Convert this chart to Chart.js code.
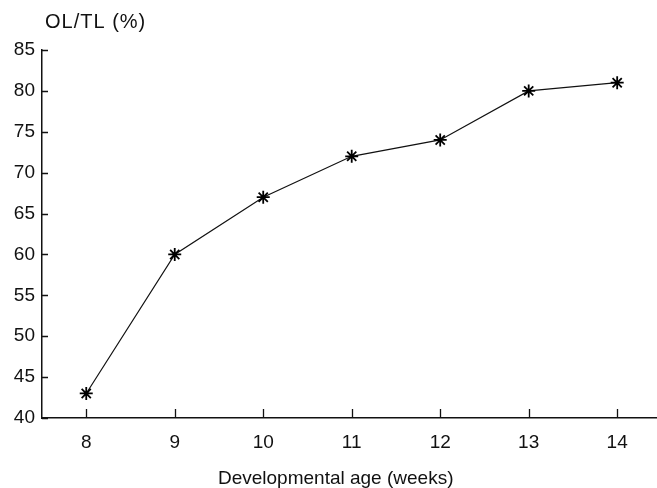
<!DOCTYPE html>
<html>
<head>
<meta charset="utf-8">
<script src="https://cdn.jsdelivr.net/npm/chart.js@4"></script>
<style>
html,body{margin:0;padding:0;background:#fff;}
#wrap{width:657px;height:488px;position:relative;}
</style>
</head>
<body>
<div id="wrap"><canvas id="c" width="657" height="488"></canvas></div>
<script>
const weeks = [8, 9, 10, 11, 12, 13, 14];
const olTl = [43, 60, 67, 72, 74, 80, 81];
const yTicks = [40, 45, 50, 55, 60, 65, 70, 75, 80, 85];
const yTitle = 'OL/TL (%)';
const xTitle = 'Developmental age (weeks)';

const FONT = '"Liberation Sans", Arial, sans-serif';

const innerTicks = {
  id: 'innerTicks',
  afterDraw(chart) {
    const ctx = chart.ctx;
    const xs = chart.scales.x, ys = chart.scales.y;
    const ca = chart.chartArea;
    ctx.save();
    ctx.strokeStyle = '#111';
    ctx.lineWidth = 1.3;
    ctx.beginPath();
    weeks.forEach(w => {
      const px = Math.round(xs.getPixelForValue(w)) + 0.5;
      ctx.moveTo(px, ca.bottom);
      ctx.lineTo(px, ca.bottom - 9);
    });
    yTicks.forEach(v => {
      const py = Math.round(ys.getPixelForValue(v)) + 0.5;
      ctx.moveTo(ca.left, py);
      ctx.lineTo(ca.left + 6, py);
    });
    ctx.stroke();
    ctx.fillStyle = '#111';
    ctx.font = '20px ' + FONT;
    ctx.textBaseline = 'alphabetic';
    ctx.textAlign = 'left';
    try { ctx.letterSpacing = '1px'; } catch (e) {}
    ctx.fillText(yTitle, ca.left + 3, 28);
    try { ctx.letterSpacing = '0px'; } catch (e) {}
    ctx.font = '19px ' + FONT;
    ctx.textAlign = 'center';
    const cx = (xs.getPixelForValue(10) + xs.getPixelForValue(12)) / 2 - 16;
    ctx.fillText(xTitle, cx, 484);
    ctx.restore();
  }
};

new Chart(document.getElementById('c'), {
  type: 'line',
  data: {
    datasets: [{
      data: weeks.map((w, i) => ({x: w, y: olTl[i]})),
      borderColor: '#111',
      borderWidth: 1.2,
      pointStyle: 'star',
      pointRadius: 6.5,
      pointBorderWidth: 1.8,
      pointBorderColor: '#000',
      pointBackgroundColor: '#000',
      tension: 0,
      fill: false
    }]
  },
  options: {
    responsive: false,
    animation: false,
    devicePixelRatio: 1,
    layout: {autoPadding: false, padding: {top: 50, right: 0, left: 0, bottom: 0}},
    plugins: {legend: {display: false}, tooltip: {enabled: false}, title: {display: false}},
    scales: {
      x: {
        type: 'linear',
        min: 7.5,
        max: 14.45,
        afterBuildTicks(s) { s.ticks = weeks.map(v => ({value: v})); },
        ticks: {color: '#111', font: {family: FONT, size: 19}, padding: 13, maxRotation: 0},
        grid: {display: true, drawOnChartArea: false, drawTicks: false},
        border: {display: true, color: '#111', width: 1.5},
        title: {display: false},
        afterFit(s) { s.height = 70; s.paddingLeft = 0; s.paddingRight = 0; }
      },
      y: {
        min: 40,
        max: 85,
        afterBuildTicks(s) { s.ticks = yTicks.map(v => ({value: v})); },
        ticks: {color: '#111', font: {family: FONT, size: 19}, padding: 7},
        grid: {display: true, drawOnChartArea: false, drawTicks: false},
        border: {display: true, color: '#111', width: 1.5},
        afterFit(s) { s.width = 42; s.paddingTop = 0; s.paddingBottom = 0; }
      }
    }
  },
  plugins: [innerTicks]
});
</script>
</body>
</html>
